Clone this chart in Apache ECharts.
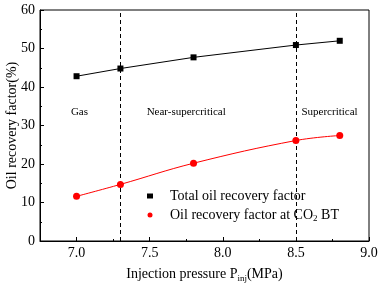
<!DOCTYPE html>
<html><head><meta charset="utf-8">
<script src="https://cdn.jsdelivr.net/npm/echarts@6/dist/echarts.min.js"></script>
<style>html,body{margin:0;padding:0;background:#fff}#c{width:385px;height:288px}</style>
</head><body><div id="c"></div>
<script>
var pressures = [7.0, 7.3, 7.8, 8.5, 8.8];
var totalRecovery = [42.8, 44.8, 47.7, 50.9, 52.0];
var btRecovery = [11.6, 14.7, 20.2, 26.1, 27.4];
var phaseBoundaries = [7.3, 8.5];
var phaseLabels = ['Gas', 'Near-supercritical', 'Supercritical'];
var phaseLabelX = [7.02, 7.75, 8.73];
var phaseLabelY = 33.5;
var xMajorTicks = [7.0, 7.5, 8.0, 8.5, 9.0];
var xMinorTicks = [7.25, 7.75, 8.25, 8.75];

var font = '"Liberation Serif","Times New Roman",serif';
var chart = echarts.init(document.getElementById('c'), null, {renderer: 'canvas'});
function pairs(xs, ys) { return xs.map(function (x, i) { return [x, ys[i]]; }); }

chart.setOption({
  animation: false,
  backgroundColor: '#fff',
  grid: {left: 40, right: 16, top: 10, bottom: 47, containLabel: false, outerBoundsMode: 'none',
    show: true, borderColor: '#000', borderWidth: 1, backgroundColor: 'transparent'},
  legend: {
    orient: 'vertical', left: 142, top: 184, itemGap: 5, itemWidth: 6, itemHeight: 5,
    textStyle: {fontFamily: font, fontSize: 14, color: '#000', lineHeight: 14, padding: [0, 0, 0, 12],
      rich: {sub: {fontFamily: font, fontSize: 9, color: '#000', padding: [7, 0, 0, 0]},
             n: {fontFamily: font, fontSize: 14, color: '#000'}}},
    formatter: function (name) {
      if (name.indexOf('CO2') >= 0) return '{n|Oil recovery factor at CO}{sub|2}{n| BT}';
      return name;
    },
    data: [{name: 'Total oil recovery factor', icon: 'rect'}, {name: 'Oil recovery factor at CO2 BT', icon: 'circle'}]
  },
  xAxis: [{
    type: 'value', min: 6.75, max: 9.0,
    name: '{n|Injection pressure P}{sub|inj}{n|(MPa)}', nameLocation: 'middle', nameGap: 25, nameMoveOverlap: false,
    nameTextStyle: {rich: {n: {fontFamily: font, fontSize: 14, color: '#000'}, sub: {fontFamily: font, fontSize: 9, color: '#000', padding: [8, 0, 0, 0]}}},
    axisLine: {lineStyle: {color: '#000', width: 1}},
    axisTick: {inside: true, length: 4, customValues: xMajorTicks, lineStyle: {color: '#000'}},
    axisLabel: {fontFamily: font, fontSize: 14, color: '#000', margin: 5, customValues: xMajorTicks,
      formatter: function (v) { return v.toFixed(1); }},
    splitLine: {show: false}
  }, {
    type: 'value', min: 6.75, max: 9.0, position: 'bottom',
    axisLine: {show: false},
    axisTick: {inside: true, length: 2, customValues: xMinorTicks, lineStyle: {color: '#000'}},
    axisLabel: {show: false},
    splitLine: {show: false}
  }],
  yAxis: {
    type: 'value', min: 0, max: 60, interval: 10,
    name: 'Oil recovery factor(%)', nameLocation: 'middle', nameGap: 21, nameMoveOverlap: false,
    nameTextStyle: {fontFamily: font, fontSize: 14, color: '#000'},
    axisLine: {lineStyle: {color: '#000', width: 1}},
    axisTick: {inside: true, length: 4, lineStyle: {color: '#000'}},
    minorTick: {show: true, splitNumber: 2, length: 2, lineStyle: {color: '#000'}},
    axisLabel: {fontFamily: font, fontSize: 14, color: '#000', margin: 5},
    splitLine: {show: false}
  },
  series: [
    {
      name: 'Total oil recovery factor', type: 'line', data: pairs(pressures, totalRecovery),
      symbol: 'rect', symbolSize: 6, itemStyle: {color: '#000'}, lineStyle: {color: '#000', width: 1}, z: 5,
      markLine: {
        silent: true, symbol: 'none', label: {show: false},
        lineStyle: {color: '#000', type: [4, 3], width: 1},
        data: phaseBoundaries.map(function (b) { return {xAxis: b}; })
      },
      markPoint: {
        silent: true, symbol: 'circle', symbolSize: 0,
        label: {show: true, position: 'inside', fontFamily: font, fontSize: 11, color: '#000', formatter: function (p) { return p.name; }},
        data: phaseLabels.map(function (t, i) { return {name: t, coord: [phaseLabelX[i], phaseLabelY]}; })
      }
    },
    {
      name: 'Oil recovery factor at CO2 BT', type: 'line', data: pairs(pressures, btRecovery), smooth: 0.4,
      symbol: 'circle', symbolSize: 7, itemStyle: {color: '#ff0000'}, lineStyle: {color: '#ff0000', width: 1}, z: 5
    }
  ]
});
</script></body></html>
